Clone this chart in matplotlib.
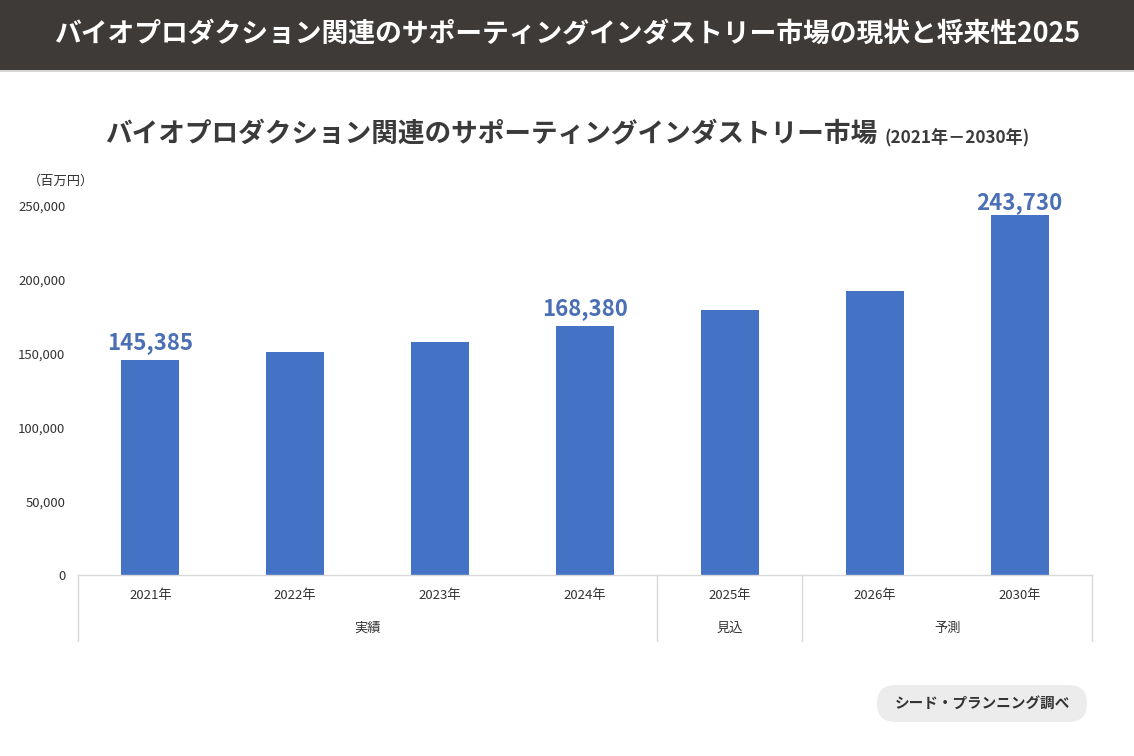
import matplotlib
matplotlib.use('Agg')
import matplotlib.pyplot as plt
from matplotlib.patches import Rectangle, FancyBboxPatch
from matplotlib.transforms import blended_transform_factory

plt.rcParams['font.family'] = ['Noto Sans CJK JP', 'DejaVu Sans']

# data
years = ['2021年', '2022年', '2023年', '2024年', '2025年', '2026年', '2030年']
values = [145385, 151100, 157900, 168380, 179400, 192400, 243730]
labelled = ['2021年', '2024年', '2030年']
groups = ['実績', '見込', '予測']
group_spans = [(0, 3), (4, 4), (5, 6)]
yticks = [0, 50000, 100000, 150000, 200000, 250000]

W, H = 1134, 756
fig = plt.figure(figsize=(W / 100, H / 100), dpi=100)
fig.patch.set_facecolor('white')

def px(x, y):
    # pixel position from top-left -> figure fraction
    return x / W, 1 - y / H

# header band
fig.patches.append(Rectangle((0, 1 - 70 / H), 1, 70 / H, transform=fig.transFigure,
                             facecolor='#3d3a38', edgecolor='none', zorder=0))
fig.patches.append(Rectangle((0, 1 - 72 / H), 1, 2 / H, transform=fig.transFigure,
                             facecolor='#d6d6d6', edgecolor='none', zorder=0))
fig.text(*px(567, 34), 'バイオプロダクション関連のサポーティングインダストリー市場の現状と将来性2025',
         color='white', fontsize=19.3, fontweight='bold', ha='center', va='center')

# chart title
fig.text(*px(877, 135), 'バイオプロダクション関連のサポーティングインダストリー市場',
         color='#3a3a3a', fontsize=19.2, fontweight='bold', ha='right', va='center')
fig.text(*px(885, 138), '(2021年－2030年)',
         color='#3a3a3a', fontsize=12.3, fontweight='bold', ha='left', va='center')

# unit label
fig.text(*px(28, 181), '（百万円）', color='#333333', fontsize=9.5, ha='left', va='center')

# plot area
left, right, top, bottom = 78, 1092, 206, 575
ax = fig.add_axes([left / W, 1 - bottom / H, (right - left) / W, (bottom - top) / H])
x = list(range(len(years)))
ax.bar(x, values, width=0.4, color='#4472c4', zorder=2)
ax.set_xlim(-0.5, len(years) - 0.5)
ax.set_ylim(0, 250000)
ax.set_yticks(yticks)
ax.set_yticklabels([f'{v:,}' for v in yticks], fontsize=9.5, color='#333333')
ax.set_xticks(x)
ax.set_xticklabels(years, fontsize=9.5, color='#333333')
ax.tick_params(axis='y', length=0, pad=9)
ax.tick_params(axis='x', length=0, pad=10)
for s in ['left', 'right', 'top']:
    ax.spines[s].set_visible(False)
ax.spines['bottom'].set_color('#d9d9d9')
ax.spines['bottom'].set_linewidth(1)

for i, (yr, v) in enumerate(zip(years, values)):
    if yr in labelled:
        ax.text(i, min(v + 12000, 252000), f'{v:,}', ha='center', va='center', fontsize=16,
                fontweight='bold', color='#4a6fb5', clip_on=False)

# category groups below axis
trans = blended_transform_factory(ax.transData, ax.transAxes)
depth = 66 / (bottom - top)
for sep in [-0.5, 3.5, 4.5, 6.5]:
    ax.plot([sep, sep], [0, -depth], transform=trans, color='#d9d9d9', lw=1, clip_on=False)
for g, (a, b) in zip(groups, group_spans):
    ax.text((a + b) / 2, -53 / (bottom - top), g, transform=trans, ha='center', va='center',
            fontsize=9.5, color='#333333')

# source badge
badge = FancyBboxPatch((8.77, 0.34), 2.10, 0.37, boxstyle='round,pad=0,rounding_size=0.185',
                       transform=fig.dpi_scale_trans, facecolor='#ececec', edgecolor='none')
fig.patches.append(badge)
fig.text(*px(982, 704), 'シード・プランニング調べ', color='#333333', fontsize=10.5,
         fontweight='bold', ha='center', va='center')

fig.savefig('out.png', dpi=100)
